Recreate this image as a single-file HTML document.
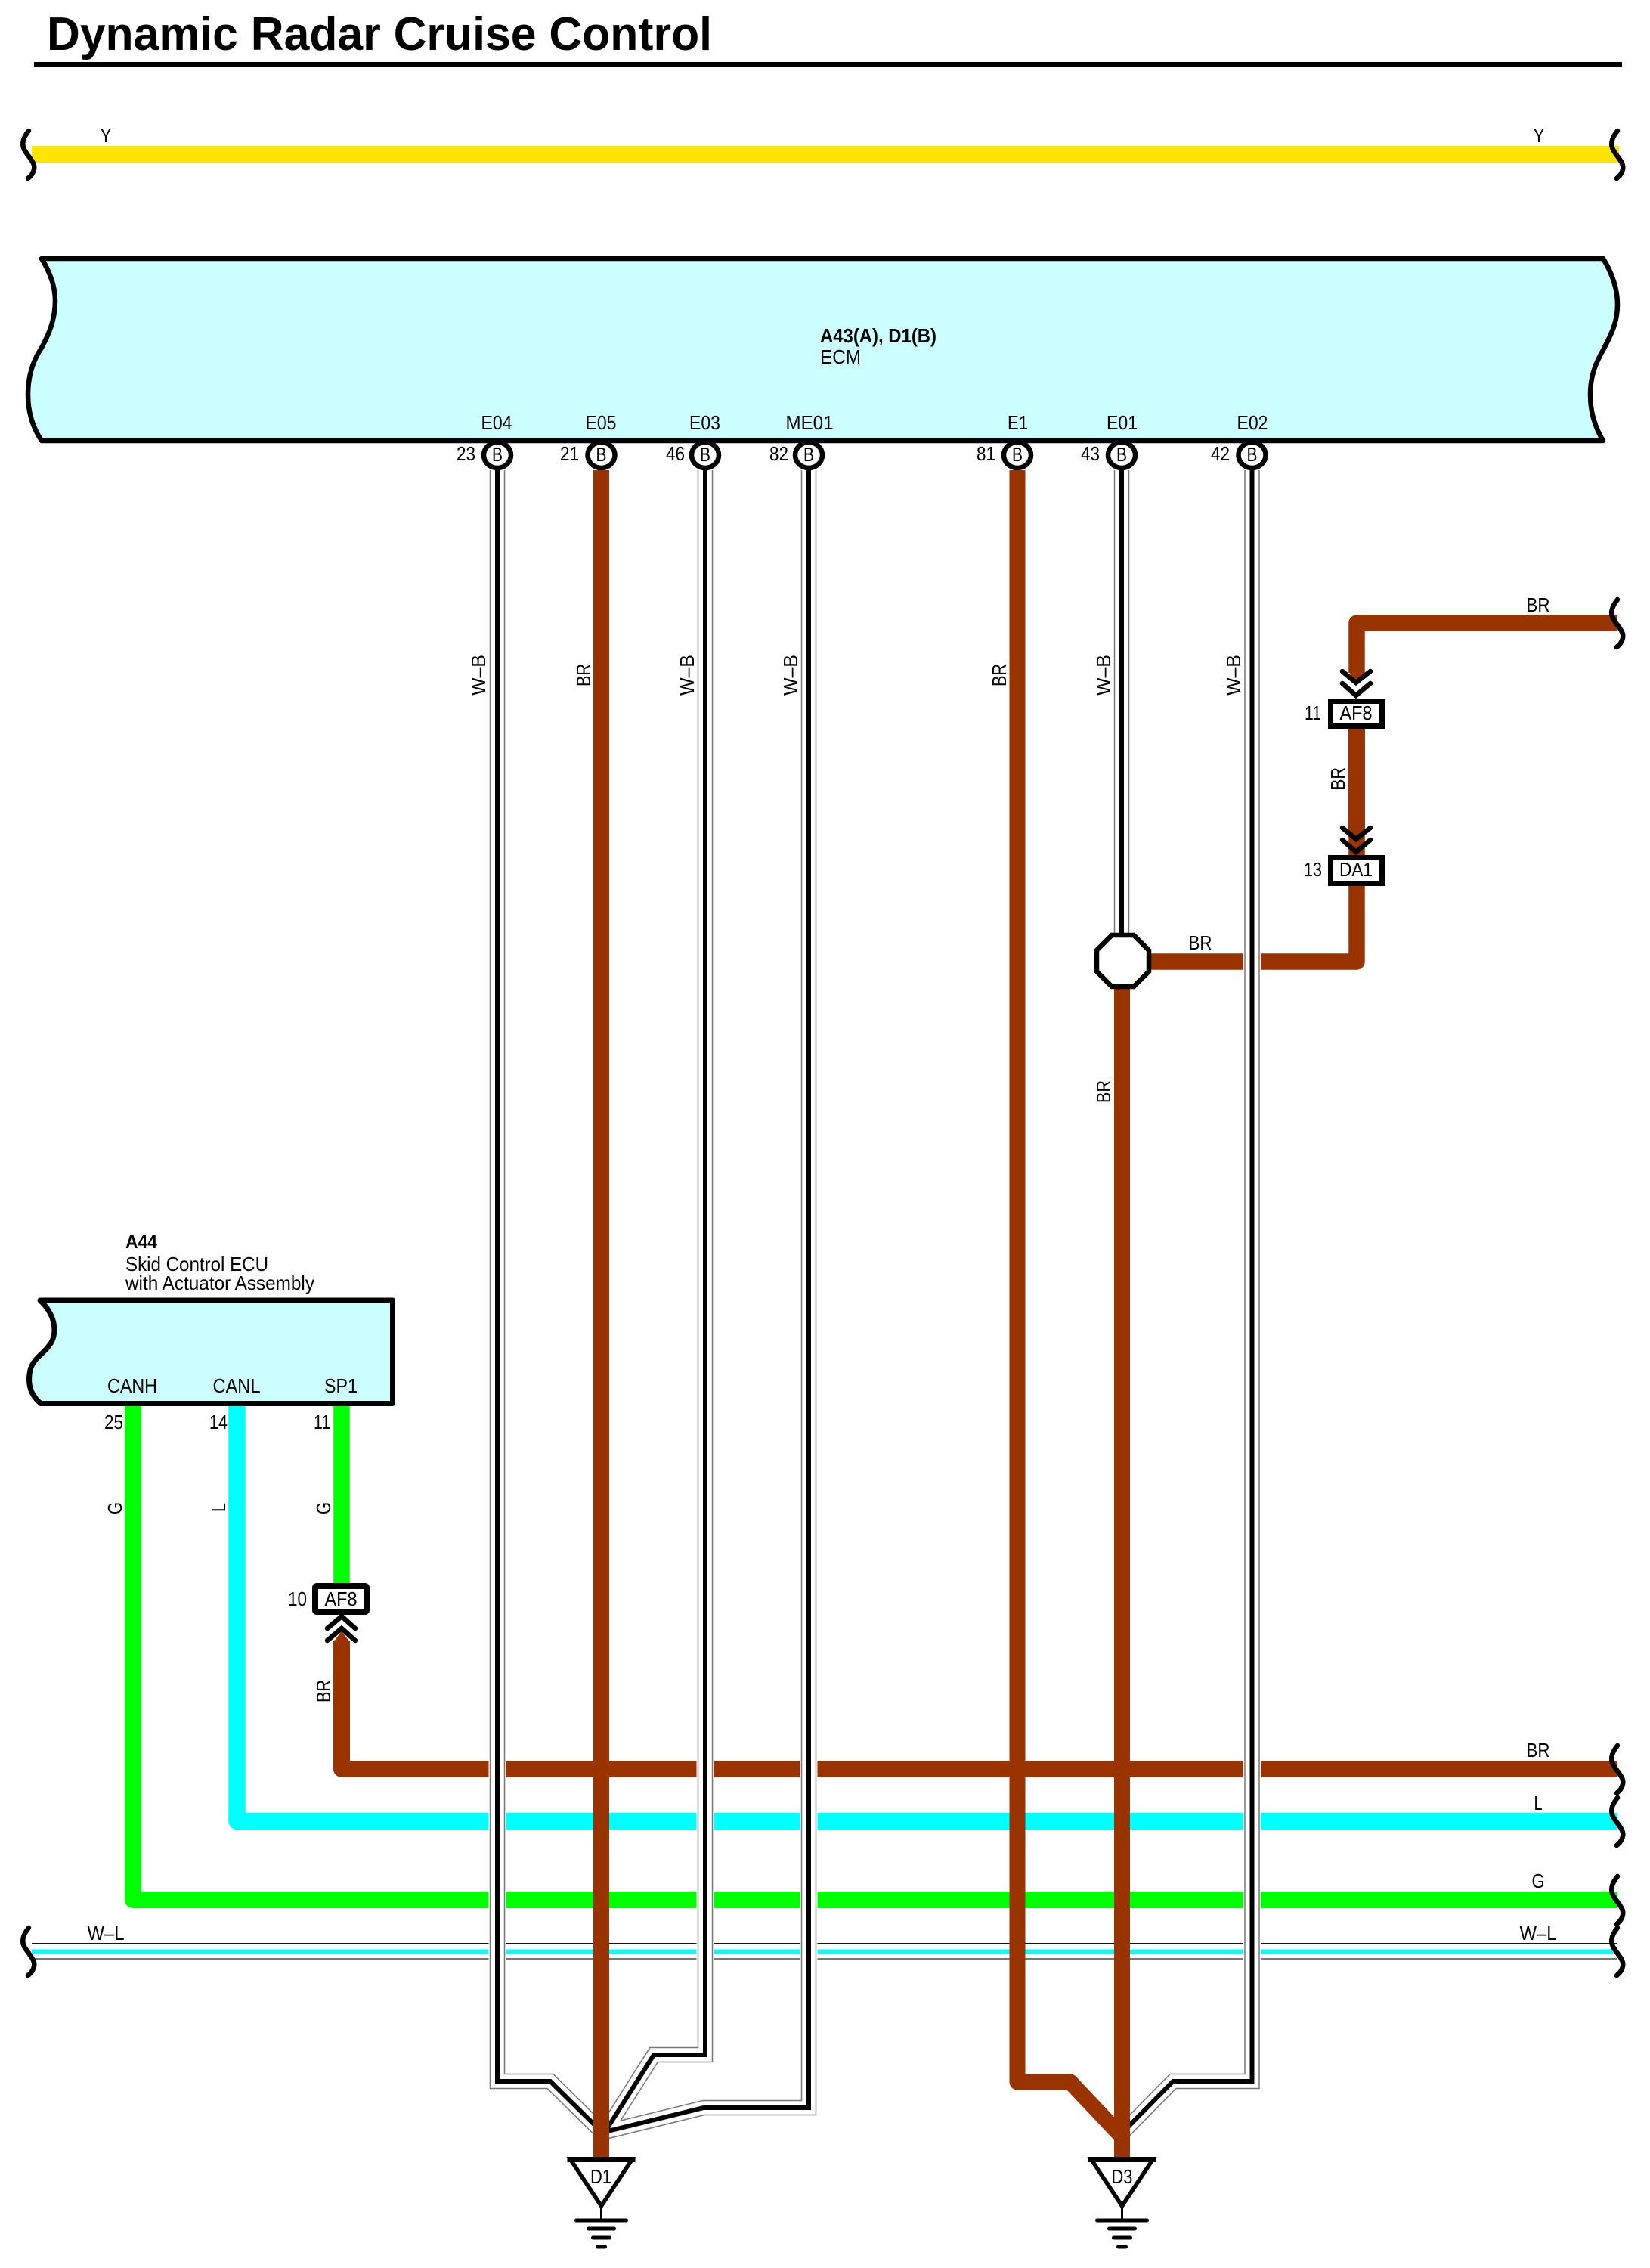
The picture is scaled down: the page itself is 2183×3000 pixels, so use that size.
<!DOCTYPE html>
<html>
<head>
<meta charset="utf-8">
<style>
html,body{margin:0;padding:0;background:#fff}
svg{display:block}
text{font-family:"Liberation Sans",Arial,sans-serif;font-size:26px;fill:#000}
.b{font-weight:bold}
</style>
</head>
<body>
<svg width="2183" height="3000" viewBox="0 0 2183 3000" xmlns="http://www.w3.org/2000/svg">
<defs>
<path id="brk" d="M2140,-31 C2131,-20 2130,-11 2136,-3 C2141,5 2149,12 2147,20 C2146,25 2143,29 2139,32" fill="none" stroke="#000" stroke-width="6.5" stroke-linecap="round"/>
<g id="gnd">
<path d="M-41,-65 H41 L0,-3 Z" fill="#fff" stroke="#000" stroke-width="5.5" stroke-linejoin="miter"/>
<rect x="-45" y="-68" width="90" height="7" fill="#000"/>
<path d="M0,0 V16" stroke="#000" stroke-width="3"/>
<path d="M-33,16 H33" stroke="#000" stroke-width="5" stroke-linecap="round"/>
<path d="M-17,27 H17" stroke="#000" stroke-width="5" stroke-linecap="round"/>
<path d="M-11,39 H11" stroke="#000" stroke-width="5" stroke-linecap="round"/>
<path d="M-5,51 H5" stroke="#000" stroke-width="5" stroke-linecap="round"/>
</g>
</defs>

<!-- Title -->
<text x="62" y="66" class="b" style="font-size:62px" textLength="880" lengthAdjust="spacingAndGlyphs">Dynamic Radar Cruise Control</text>
<rect x="45" y="82" width="2101" height="6.5" fill="#000"/>

<!-- Yellow -->
<rect x="42" y="193" width="2100" height="22" fill="#ffe400"/>
<use href="#brk" transform="translate(-2102,204)"/>
<use href="#brk" transform="translate(0,204)"/>
<text x="140" y="188" text-anchor="middle" textLength="15" lengthAdjust="spacingAndGlyphs">Y</text>
<text x="2036" y="188" text-anchor="middle" textLength="15" lengthAdjust="spacingAndGlyphs">Y</text>

<!-- ECM -->
<path d="M55,342 H2121 C2132,360 2140,380 2140,403 C2140,425 2133,440 2121,463 C2113,477 2104,495 2104,522 C2104,545 2110,565 2121,583 H55 C43,565 37,545 37,522 C37,498 43,478 55,460 C63,445 73,425 73,398 C73,378 66,360 55,342 Z" fill="#ccffff" stroke="#000" stroke-width="6.5" stroke-linejoin="round"/>
<text x="1085" y="453" class="b" textLength="154" lengthAdjust="spacingAndGlyphs">A43(A), D1(B)</text>
<text x="1085" y="481" textLength="54" lengthAdjust="spacingAndGlyphs">ECM</text>

<!-- horizontal bus wires -->
<path d="M452,2170 V2340 H2140" fill="none" stroke="#993300" stroke-width="22" stroke-linejoin="round"/>
<polygon points="441,2172 452,2158 463,2172" fill="#993300"/>
<path d="M313.5,1858 V2409 H2140" fill="none" stroke="#00ffff" stroke-width="22.5" stroke-linejoin="round"/>
<path d="M176,1858 V2513 H2140" fill="none" stroke="#00ff00" stroke-width="22" stroke-linejoin="round"/>
<rect x="42" y="2570" width="2098" height="1.6" fill="#111"/>
<rect x="42" y="2578.5" width="2098" height="6" fill="#19f5f5"/>
<rect x="42" y="2590" width="2098" height="2" fill="#777"/>

<!-- brown, octagon branch -->
<path d="M1490,1272 H1795 V960" fill="none" stroke="#993300" stroke-width="21.5" stroke-linejoin="round"/>
<path d="M1795,890 V824 H2140" fill="none" stroke="#993300" stroke-width="21.5" stroke-linejoin="round"/>

<!-- W-B wires -->
<g fill="none" stroke-linejoin="miter">
<g stroke="#fff" stroke-width="23">
<path d="M658,622 V2753 H728 L796,2820"/>
<path d="M933,622 V2718 H865 L796,2827"/>
<path d="M1070,622 V2788 H931 L796,2821"/>
<path d="M1484,622 V1240"/>
<path d="M1656.5,622 V2753 H1552 L1484,2822"/>
</g>
<g stroke="#777" stroke-width="20.5">
<path d="M658,622 V2753 H728 L796,2820"/>
<path d="M933,622 V2718 H865 L796,2827"/>
<path d="M1070,622 V2788 H931 L796,2821"/>
<path d="M1484,622 V1240"/>
<path d="M1656.5,622 V2753 H1552 L1484,2822"/>
</g>
<g stroke="#fff" stroke-width="17.5">
<path d="M658,622 V2753 H728 L796,2820"/>
<path d="M933,622 V2718 H865 L796,2827"/>
<path d="M1070,622 V2788 H931 L796,2821"/>
<path d="M1484,622 V1240"/>
<path d="M1656.5,622 V2753 H1552 L1484,2822"/>
</g>
<g stroke="#000" stroke-width="6">
<path d="M658,622 V2753 H728 L796,2820"/>
<path d="M933,622 V2718 H865 L796,2827"/>
<path d="M1070,622 V2788 H931 L796,2821"/>
<path d="M1484,622 V1240"/>
<path d="M1656.5,622 V2753 H1552 L1484,2822"/>
</g>
</g>

<!-- brown verticals -->
<path d="M795.5,622 V2856" fill="none" stroke="#993300" stroke-width="21"/>
<path d="M1346,622 V2754 H1416 L1484,2826" fill="none" stroke="#993300" stroke-width="21" stroke-linejoin="round"/>
<path d="M1484.5,1305 V2856" fill="none" stroke="#993300" stroke-width="21"/>
<path d="M452,1858 V2100" fill="none" stroke="#00ff00" stroke-width="21.5"/>
<polygon points="1784,888 1795,903 1806,888" fill="#993300"/>
<polygon points="1784,1096 1784,961 1806,961 1806,1096 1795,1110" fill="#993300"/>

<!-- octagon -->
<polygon points="1471,1237 1500,1237 1520,1257 1520,1285 1500,1305 1471,1305 1451,1285 1451,1257" fill="#fff" stroke="#000" stroke-width="6.5"/>

<!-- breaks -->
<use href="#brk" transform="translate(0,824)"/>
<use href="#brk" transform="translate(0,2340)"/>
<use href="#brk" transform="translate(0,2409)"/>
<use href="#brk" transform="translate(0,2513)"/>
<use href="#brk" transform="translate(0,2581)"/>
<use href="#brk" transform="translate(-2102,2581)"/>

<!-- pins -->
<g fill="#fff" stroke="#000" stroke-width="6.5">
<ellipse cx="658" cy="602" rx="18" ry="17"/>
<ellipse cx="795.5" cy="602" rx="18" ry="17"/>
<ellipse cx="933" cy="602" rx="18" ry="17"/>
<ellipse cx="1070" cy="602" rx="18" ry="17"/>
<ellipse cx="1346" cy="602" rx="18" ry="17"/>
<ellipse cx="1484" cy="602" rx="18" ry="17"/>
<ellipse cx="1656.5" cy="602" rx="18" ry="17"/>
</g>
<g text-anchor="middle">
<text x="658" y="610" textLength="14" lengthAdjust="spacingAndGlyphs">B</text>
<text x="795.5" y="610" textLength="14" lengthAdjust="spacingAndGlyphs">B</text>
<text x="933" y="610" textLength="14" lengthAdjust="spacingAndGlyphs">B</text>
<text x="1070" y="610" textLength="14" lengthAdjust="spacingAndGlyphs">B</text>
<text x="1346" y="610" textLength="14" lengthAdjust="spacingAndGlyphs">B</text>
<text x="1484" y="610" textLength="14" lengthAdjust="spacingAndGlyphs">B</text>
<text x="1656.5" y="610" textLength="14" lengthAdjust="spacingAndGlyphs">B</text>
<text x="657" y="568" textLength="41" lengthAdjust="spacingAndGlyphs">E04</text>
<text x="795" y="568" textLength="41" lengthAdjust="spacingAndGlyphs">E05</text>
<text x="932.5" y="568" textLength="41" lengthAdjust="spacingAndGlyphs">E03</text>
<text x="1071" y="568" textLength="63" lengthAdjust="spacingAndGlyphs">ME01</text>
<text x="1346.5" y="568" textLength="27" lengthAdjust="spacingAndGlyphs">E1</text>
<text x="1484.5" y="568" textLength="41" lengthAdjust="spacingAndGlyphs">E01</text>
<text x="1657" y="568" textLength="41" lengthAdjust="spacingAndGlyphs">E02</text>
</g>
<g text-anchor="end">
<text x="629" y="609" textLength="25" lengthAdjust="spacingAndGlyphs">23</text>
<text x="766" y="609" textLength="25" lengthAdjust="spacingAndGlyphs">21</text>
<text x="906" y="609" textLength="25" lengthAdjust="spacingAndGlyphs">46</text>
<text x="1043" y="609" textLength="25" lengthAdjust="spacingAndGlyphs">82</text>
<text x="1317" y="609" textLength="25" lengthAdjust="spacingAndGlyphs">81</text>
<text x="1455" y="609" textLength="25" lengthAdjust="spacingAndGlyphs">43</text>
<text x="1627" y="609" textLength="25" lengthAdjust="spacingAndGlyphs">42</text>
</g>

<!-- vertical labels -->
<g text-anchor="middle">
<text transform="translate(642,893) rotate(-90)" textLength="54" lengthAdjust="spacingAndGlyphs">W–B</text>
<text transform="translate(781,893) rotate(-90)" textLength="30" lengthAdjust="spacingAndGlyphs">BR</text>
<text transform="translate(918,893) rotate(-90)" textLength="54" lengthAdjust="spacingAndGlyphs">W–B</text>
<text transform="translate(1055,893) rotate(-90)" textLength="54" lengthAdjust="spacingAndGlyphs">W–B</text>
<text transform="translate(1331,893) rotate(-90)" textLength="30" lengthAdjust="spacingAndGlyphs">BR</text>
<text transform="translate(1469,893) rotate(-90)" textLength="54" lengthAdjust="spacingAndGlyphs">W–B</text>
<text transform="translate(1641,893) rotate(-90)" textLength="54" lengthAdjust="spacingAndGlyphs">W–B</text>
<text transform="translate(1469,1444) rotate(-90)" textLength="30" lengthAdjust="spacingAndGlyphs">BR</text>
<text transform="translate(1779,1030) rotate(-90)" textLength="30" lengthAdjust="spacingAndGlyphs">BR</text>
<text transform="translate(161,1995) rotate(-90)" textLength="16" lengthAdjust="spacingAndGlyphs">G</text>
<text transform="translate(298,1994) rotate(-90)" textLength="12" lengthAdjust="spacingAndGlyphs">L</text>
<text transform="translate(437,1995) rotate(-90)" textLength="16" lengthAdjust="spacingAndGlyphs">G</text>
<text transform="translate(437,2237) rotate(-90)" textLength="30" lengthAdjust="spacingAndGlyphs">BR</text>
<!-- horizontal labels -->
<text x="2035" y="809" textLength="31" lengthAdjust="spacingAndGlyphs">BR</text>
<text x="1588" y="1256" textLength="31" lengthAdjust="spacingAndGlyphs">BR</text>
<text x="2035" y="2324" textLength="31" lengthAdjust="spacingAndGlyphs">BR</text>
<text x="2035" y="2394" textLength="11" lengthAdjust="spacingAndGlyphs">L</text>
<text x="2035" y="2497" textLength="17" lengthAdjust="spacingAndGlyphs">G</text>
<text x="2035" y="2566" textLength="49" lengthAdjust="spacingAndGlyphs">W–L</text>
<text x="140" y="2566" textLength="49" lengthAdjust="spacingAndGlyphs">W–L</text>
</g>

<!-- connectors -->
<g fill="none" stroke="#000" stroke-width="6.5" stroke-linecap="round" stroke-linejoin="miter">
<path d="M1776,888 L1794,903 L1813,888"/>
<path d="M1776,904 L1794,920 L1813,904"/>
<path d="M1776,1095 L1794,1110 L1813,1095"/>
<path d="M1776,1111 L1794,1127 L1813,1111"/>
<path d="M433,2154 L452,2138 L470,2154"/>
<path d="M433,2170 L452,2154 L470,2170"/>
</g>
<rect x="1760.5" y="927.5" width="68" height="33" fill="#fff" stroke="#000" stroke-width="7"/>
<rect x="1760.5" y="1134.5" width="68" height="34" fill="#fff" stroke="#000" stroke-width="7"/>
<rect x="417" y="2098" width="68" height="34" rx="2" fill="#fff" stroke="#000" stroke-width="8"/>
<g text-anchor="middle">
<text x="1794" y="952" textLength="43" lengthAdjust="spacingAndGlyphs">AF8</text>
<text x="1794" y="1159" textLength="44" lengthAdjust="spacingAndGlyphs">DA1</text>
<text x="451" y="2124" textLength="43" lengthAdjust="spacingAndGlyphs">AF8</text>
</g>
<g text-anchor="end">
<text x="1748" y="952" textLength="22" lengthAdjust="spacingAndGlyphs">11</text>
<text x="1749" y="1159" textLength="24" lengthAdjust="spacingAndGlyphs">13</text>
<text x="406" y="2124" textLength="25" lengthAdjust="spacingAndGlyphs">10</text>
</g>

<!-- A44 -->
<path d="M53,1720 H519.5 V1856.5 H54 C40,1845 36,1830 40,1812 C44,1797 58,1790 64,1781 C76,1768 76,1742 53,1720 Z" fill="#ccffff" stroke="#000" stroke-width="7" stroke-linejoin="round"/>
<text x="166" y="1651" class="b" textLength="42" lengthAdjust="spacingAndGlyphs">A44</text>
<text x="166" y="1681" textLength="189" lengthAdjust="spacingAndGlyphs">Skid Control ECU</text>
<text x="166" y="1706" textLength="250" lengthAdjust="spacingAndGlyphs">with Actuator Assembly</text>
<g text-anchor="middle">
<text x="175" y="1842" textLength="66" lengthAdjust="spacingAndGlyphs">CANH</text>
<text x="313" y="1842" textLength="63" lengthAdjust="spacingAndGlyphs">CANL</text>
<text x="451" y="1842" textLength="44" lengthAdjust="spacingAndGlyphs">SP1</text>
</g>
<g text-anchor="end">
<text x="163" y="1890" textLength="25" lengthAdjust="spacingAndGlyphs">25</text>
<text x="301" y="1890" textLength="24" lengthAdjust="spacingAndGlyphs">14</text>
<text x="437" y="1890" textLength="22" lengthAdjust="spacingAndGlyphs">11</text>
</g>

<!-- grounds -->
<use href="#gnd" transform="translate(795.5,2921)"/>
<use href="#gnd" transform="translate(1484.5,2921)"/>
<g text-anchor="middle">
<text x="795" y="2888" textLength="28" lengthAdjust="spacingAndGlyphs">D1</text>
<text x="1484.5" y="2888" textLength="28" lengthAdjust="spacingAndGlyphs">D3</text>
</g>
</svg>
</body>
</html>
